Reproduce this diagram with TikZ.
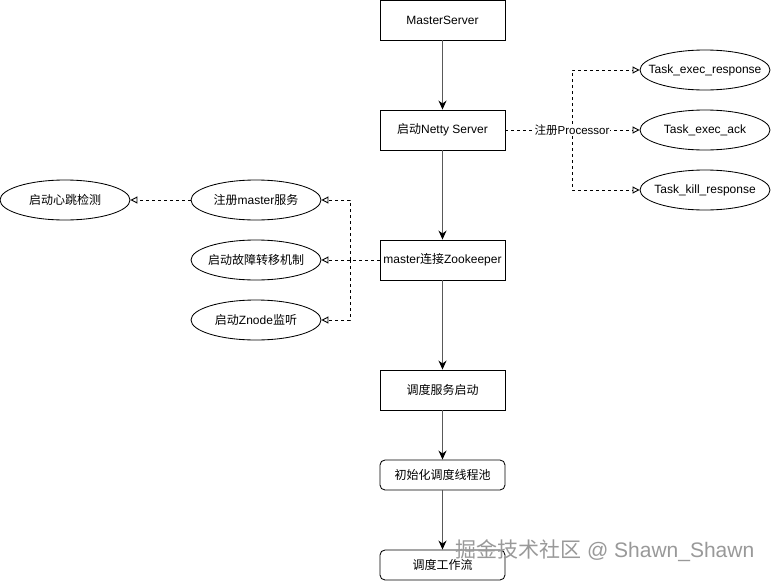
\documentclass[tikz,border=0pt]{standalone}
\usepackage{fontspec}
\setmainfont{Liberation Sans}
\newfontfamily\cjk{Noto Sans CJK SC}
\newcommand{\zh}[1]{{\cjk #1}}
\newcommand{\fixw}[1]{\makebox[0pt]{#1}}
\usetikzlibrary{arrows.meta,shapes.geometric}
\begin{document}
\begin{tikzpicture}[x=1pt,y=-1pt,
  box/.style={draw,line width=0.85pt,minimum width=125pt,minimum height=40pt,inner sep=0pt,font=\fontsize{12}{14}\selectfont},
  rbox/.style={box,rounded corners=5pt,minimum height=30pt},
  ell/.style={draw,line width=0.85pt,ellipse,minimum width=130pt,minimum height=40pt,inner sep=0pt,font=\fontsize{12}{14}\selectfont},
  flow/.style={draw=black!65,line width=1.8pt,-{Stealth[length=9pt,width=8pt,color=black]}},
  dashedge/.style={draw=black,line width=0.9pt,dash pattern=on 3pt off 3pt},
  opentip/.style={dashedge,-{Triangle[open,length=7pt,width=7pt,line width=0.9pt]}},
  lbl/.style={fill=white,inner sep=1pt,font=\fontsize{11.5}{13}\selectfont}
]
\useasboundingbox (0,0) rectangle (771,581);
\fill[white] (0,0) rectangle (771,581);

% main column
\node[box]  (ms)    at (442.5,20)  {MasterServer};
\node[box]  (netty) at (442.5,130) {\zh{启动}Netty Server};
\node[box]  (zk)    at (442.5,260) {master\zh{连接}Zookeeper};
\node[box]  (sched) at (442.5,390) {\zh{调度服务启动}};
\node[rbox] (pool)  at (442.5,475) {\zh{初始化调度线程池}};
\node[rbox] (wf)    at (442.5,565) {\zh{调度工作流}};

% right ellipses
\node[ell] (ter) at (705,70)  {\fixw{Task\_exec\_response}};
\node[ell] (tea) at (705,130) {\fixw{Task\_exec\_ack}};
\node[ell] (tkr) at (705,190) {\fixw{Task\_kill\_response}};

% left ellipses
\node[ell] (hb) at (65,200)  {\fixw{\zh{启动心跳检测}}};
\node[ell] (rm) at (256,200) {\fixw{\zh{注册}master\zh{服务}}};
\node[ell] (ft) at (256,260) {\fixw{\zh{启动故障转移机制}}};
\node[ell] (zn) at (256,320) {\fixw{\zh{启动}Znode\zh{监听}}};

% main flow
\draw[flow] (ms) -- (netty);
\draw[flow] (netty) -- (zk);
\draw[flow] (zk) -- (sched);
\draw[flow] (sched) -- (pool);
\draw[flow] (pool) -- (wf);

% right branch
\coordinate (rb) at (572,130);
\draw[dashedge] (netty.east) -- (rb);
\draw[opentip] (rb) |- (ter.west);
\draw[opentip] (rb) -- (tea.west);
\draw[opentip] (rb) |- (tkr.west);
\node[lbl] (reglbl) at (rb) {\zh{注册}Processor};

% left branch
\coordinate (lb) at (350,260);
\draw[dashedge] (zk.west) -- (lb);
\draw[opentip] (lb) -- (ft.east);
\draw[opentip] (lb) |- (rm.east);
\draw[opentip] (lb) |- (zn.east);
\draw[opentip] (rm.west) -- (hb.east);

% watermark
\node[anchor=west,inner sep=0pt,text=black!40,font=\fontsize{21}{24}\selectfont] (wm) at (455,551) {\zh{掘金技术社区} @ Shawn\_Shawn};
\end{tikzpicture}
\end{document}
